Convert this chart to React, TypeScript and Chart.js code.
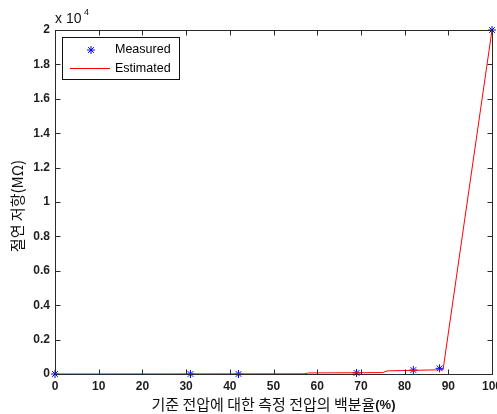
import React, { useEffect, useRef } from "react";
import { Chart, registerables } from "chart.js";

Chart.register(...registerables);

const measuredX = [0, 31, 42, 69, 82, 88, 100];
const measuredY = [0, 0, 0, 60, 230, 330, 20000];
const estimatedX = [0, 57, 58, 75, 76, 88.8, 100];
const estimatedY = [0, 10, 60, 80, 180, 250, 20000];
const xTickValues = [0, 10, 20, 30, 40, 50, 60, 70, 80, 90, 100];
const yTickValues = [0, 2000, 4000, 6000, 8000, 10000, 12000, 14000, 16000, 18000, 20000];
const seriesNames = ["Measured", "Estimated"];
const xTitleMain = "기준 전압에 대한 측정 전압의 백분율";
const xTitleUnit = "(%)";
const yTitle = "절연 저항(MΩ)";
const yExponent = "4";

const FRAME = "#2a2a2a";
const KFONT = "15px 'Noto Sans CJK KR', sans-serif";
const UNITFONT = "bold 13px 'Liberation Sans', Arial, sans-serif";

function drawStar(ctx: CanvasRenderingContext2D, x: number, y: number, r: number, color: string) {
  ctx.save();
  ctx.strokeStyle = color;
  ctx.lineWidth = 1;
  ctx.beginPath();
  ctx.moveTo(x - r, y);
  ctx.lineTo(x + r, y);
  ctx.moveTo(x, y - r);
  ctx.lineTo(x, y + r);
  const d = r * 0.72;
  ctx.moveTo(x - d, y - d);
  ctx.lineTo(x + d, y + d);
  ctx.moveTo(x - d, y + d);
  ctx.lineTo(x + d, y - d);
  ctx.stroke();
  ctx.restore();
}

const decorPlugin = {
  id: "decor",
  afterDatasetsDraw(chart: any) {
    const ctx: CanvasRenderingContext2D = chart.ctx;
    const { left, right, top, bottom } = chart.chartArea;
    const xs = chart.scales.x;
    const ys = chart.scales.y;
    const L = Math.round(left) + 0.5;
    const R = Math.round(right) + 0.5;
    const T = Math.round(top) + 0.5;
    const B = Math.round(bottom) + 0.5;
    ctx.save();
    ctx.strokeStyle = FRAME;
    ctx.lineWidth = 1;
    ctx.beginPath();
    xTickValues.forEach((v) => {
      const px = Math.round(xs.getPixelForValue(v)) + 0.5;
      ctx.moveTo(px, B);
      ctx.lineTo(px, B - 5);
      ctx.moveTo(px, T);
      ctx.lineTo(px, T + 5);
    });
    yTickValues.forEach((v) => {
      const py = Math.round(ys.getPixelForValue(v)) + 0.5;
      ctx.moveTo(L, py);
      ctx.lineTo(L + 5, py);
      ctx.moveTo(R, py);
      ctx.lineTo(R - 5, py);
    });
    ctx.stroke();
    ctx.strokeRect(L, T, R - L, B - T);

    // exponent label
    ctx.fillStyle = "#111";
    ctx.textBaseline = "middle";
    ctx.textAlign = "left";
    ctx.font = "14px 'Liberation Sans', Arial, sans-serif";
    ctx.fillText("x 10", left, top - 11);
    ctx.font = "9px 'Liberation Sans', Arial, sans-serif";
    ctx.fillText(yExponent, left + 29, top - 17);

    // legend
    const bx = 62.5, by = 37.5, bw = 117, bh = 42;
    ctx.fillStyle = "#fff";
    ctx.fillRect(bx, by, bw, bh);
    ctx.strokeStyle = "#111";
    ctx.strokeRect(bx, by, bw, bh);
    drawStar(ctx, 91, 50, 4, "#0000ff");
    ctx.strokeStyle = "#ff0000";
    ctx.beginPath();
    ctx.moveTo(70, 68.5);
    ctx.lineTo(110, 68.5);
    ctx.stroke();
    ctx.fillStyle = "#000";
    ctx.font = "12.5px 'Liberation Sans', Arial, sans-serif";
    ctx.textAlign = "left";
    ctx.fillText(seriesNames[0], 115, 50);
    ctx.fillText(seriesNames[1], 115, 69);

    // x title (Korean part + bold unit)
    ctx.fillStyle = "#111";
    ctx.font = KFONT;
    const w1 = ctx.measureText(xTitleMain).width;
    ctx.font = UNITFONT;
    const w2 = ctx.measureText(xTitleUnit).width;
    const startX = (left + right) / 2 - (w1 + w2) / 2;
    ctx.textAlign = "left";
    ctx.font = KFONT;
    ctx.fillText(xTitleMain, startX, 404);
    ctx.font = UNITFONT;
    ctx.fillText(xTitleUnit, startX + w1, 405);

    // y title
    ctx.font = KFONT;
    ctx.textAlign = "center";
    ctx.save();
    ctx.translate(17, (top + bottom) / 2 + 4);
    ctx.rotate(-Math.PI / 2);
    ctx.fillText(yTitle, 0, 0);
    ctx.restore();
    ctx.restore();
  },
};

export default function App() {
  const ref = useRef<HTMLCanvasElement | null>(null);
  useEffect(() => {
    document.body.style.margin = "0";
    const canvas = ref.current;
    if (!canvas) return;
    const chart = new Chart(canvas, {
      type: "scatter",
      data: {
        datasets: [
          {
            label: seriesNames[1],
            data: estimatedX.map((x, i) => ({ x, y: estimatedY[i] })),
            showLine: true,
            borderColor: "#ff0000",
            borderWidth: 1,
            pointRadius: 0,
            pointHoverRadius: 0,
            order: 0,
            clip: false,
          },
          {
            label: seriesNames[0],
            data: measuredX.map((x, i) => ({ x, y: measuredY[i] })),
            showLine: false,
            pointStyle: "star",
            pointRadius: 4,
            pointBorderColor: "#0000ff",
            pointBackgroundColor: "#0000ff",
            pointBorderWidth: 1,
            borderColor: "#0000ff",
            order: 1,
            clip: false,
          },
        ],
      },
      options: {
        animation: false,
        responsive: false,
        maintainAspectRatio: false,
        events: [],
        layout: { padding: { left: 0, top: 30, right: 5, bottom: 0 } },
        plugins: {
          legend: { display: false },
          tooltip: { enabled: false },
          title: { display: false },
        },
        scales: {
          x: {
            type: "linear",
            min: 0,
            max: 100,
            grid: { display: false, drawTicks: false },
            border: { display: false },
            afterBuildTicks: (s: any) => {
              s.ticks = xTickValues.map((v) => ({ value: v }));
            },
            ticks: {
              font: { family: "'Liberation Sans', Arial, sans-serif", size: 12, weight: "bold" },
              color: "#1e1e1e",
              padding: 5,
              maxRotation: 0,
              autoSkip: false,
              callback: (v: any) => String(v),
            },
            afterFit: (s: any) => {
              s.height = 40;
              s.paddingLeft = 0;
              s.paddingRight = 0;
            },
          },
          y: {
            type: "linear",
            min: 0,
            max: 20000,
            grid: { display: false, drawTicks: false },
            border: { display: false },
            afterBuildTicks: (s: any) => {
              s.ticks = yTickValues.map((v) => ({ value: v }));
            },
            ticks: {
              font: { family: "'Liberation Sans', Arial, sans-serif", size: 12, weight: "bold" },
              color: "#1e1e1e",
              padding: 5,
              autoSkip: false,
              callback: (v: any) => String(Math.round((Number(v) / 10000) * 10) / 10),
            },
            afterFit: (s: any) => {
              s.width = 55;
              s.paddingTop = 0;
              s.paddingBottom = 0;
            },
          },
        },
      },
      plugins: [decorPlugin],
    });
    return () => chart.destroy();
  }, []);
  return <canvas ref={ref} width={497} height={414} style={{ display: "block" }} />;
}
